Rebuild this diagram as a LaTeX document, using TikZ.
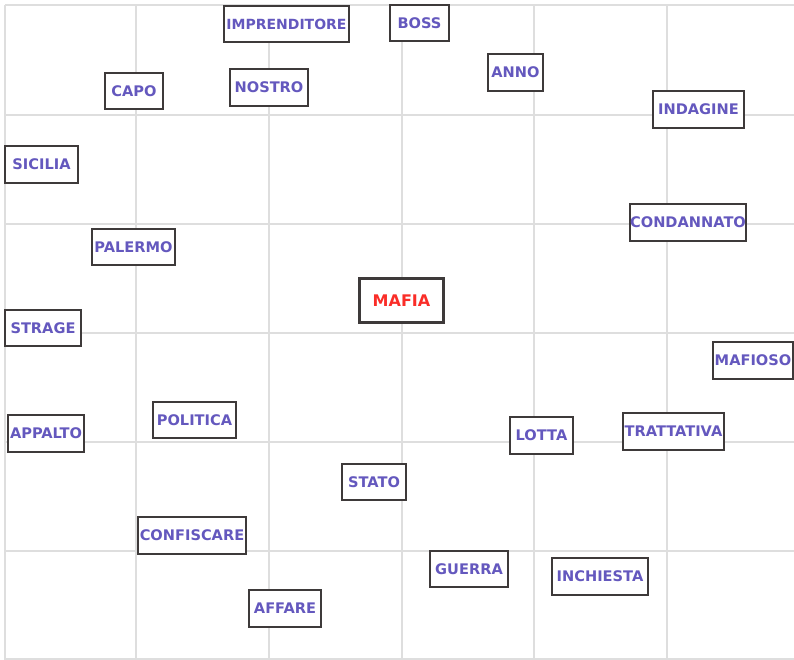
\documentclass[tikz,border=0pt]{standalone}
\usepackage{fontspec}
\setmainfont{DejaVu Sans}
\definecolor{wordc}{RGB}{100,88,190}
\definecolor{mafiared}{RGB}{250,45,40}
\definecolor{gridc}{RGB}{222,222,222}
\definecolor{boxc}{RGB}{62,58,58}
\begin{document}
\begin{tikzpicture}[x=1pt,y=-1pt,
  gridline/.style={draw=gridc,line width=2.2pt},
  wbox/.style={draw=boxc,line width=2pt,fill=white,inner sep=0pt,
    text=wordc,font=\fontsize{14.6}{16}\selectfont\bfseries,minimum height=36.5pt},
  mainbox/.style={wbox,line width=3.6pt,text=mafiared,font=\fontsize{16}{18}\selectfont\bfseries,minimum height=44pt}]
\useasboundingbox (0,0) rectangle (794,660);
\fill[white] (0,0) rectangle (794,660);
% grid
\foreach \x in {5,136,269,402,534,667}
  \draw[gridline] (\x,5) -- (\x,660);
\foreach \y in {5,115,224,333,442,551,659}
  \draw[gridline] (5,\y) -- (794,\y);
% words
\node[wbox,minimum width=125pt,font=\fontsize{14}{16}\selectfont\bfseries] (impr) at (286.5,24) {IMPRENDITORE};
\node[wbox,minimum width=59pt] (boss) at (419.5,23) {BOSS};
\node[wbox,minimum width=58pt] (capo) at (134,91) {CAPO};
\node[wbox,minimum width=78pt] (nostro) at (269,87.5) {NOSTRO};
\node[wbox,minimum width=73pt] (sicilia) at (41.5,164.5) {SICILIA};
\node[wbox,minimum width=55pt] (anno) at (515.5,72.5) {ANNO};
\node[wbox,minimum width=91pt] (indagine) at (698.5,109.5) {INDAGINE};
\node[wbox,minimum width=83pt] (palermo) at (133.5,247) {PALERMO};
\node[wbox,minimum width=76pt] (strage) at (43,328) {STRAGE};
\node[mainbox,minimum width=84pt] (mafia) at (401.5,300.5) {MAFIA};
\node[wbox,minimum width=83pt] (politica) at (194.5,420) {POLITICA};
\node[wbox,minimum width=76pt] (appalto) at (46,433.5) {APPALTO};
\node[wbox,minimum width=116pt] (condannato) at (688,222.5) {CONDANNATO};
\node[wbox,minimum width=80pt] (mafioso) at (753,360.5) {MAFIOSO};
\node[wbox,minimum width=63pt] (lotta) at (541.5,435.5) {LOTTA};
\node[wbox,minimum width=101pt] (trattativa) at (673.5,431.5) {TRATTATIVA};
\node[wbox,minimum width=64pt] (stato) at (374,482) {STATO};
\node[wbox,minimum width=108pt] (confiscare) at (192,535.5) {CONFISCARE};
\node[wbox,minimum width=72pt] (affare) at (285,608.5) {AFFARE};
\node[wbox,minimum width=78pt] (guerra) at (469,569) {GUERRA};
\node[wbox,minimum width=96pt] (inchiesta) at (600,576.5) {INCHIESTA};
\end{tikzpicture}
\end{document}
